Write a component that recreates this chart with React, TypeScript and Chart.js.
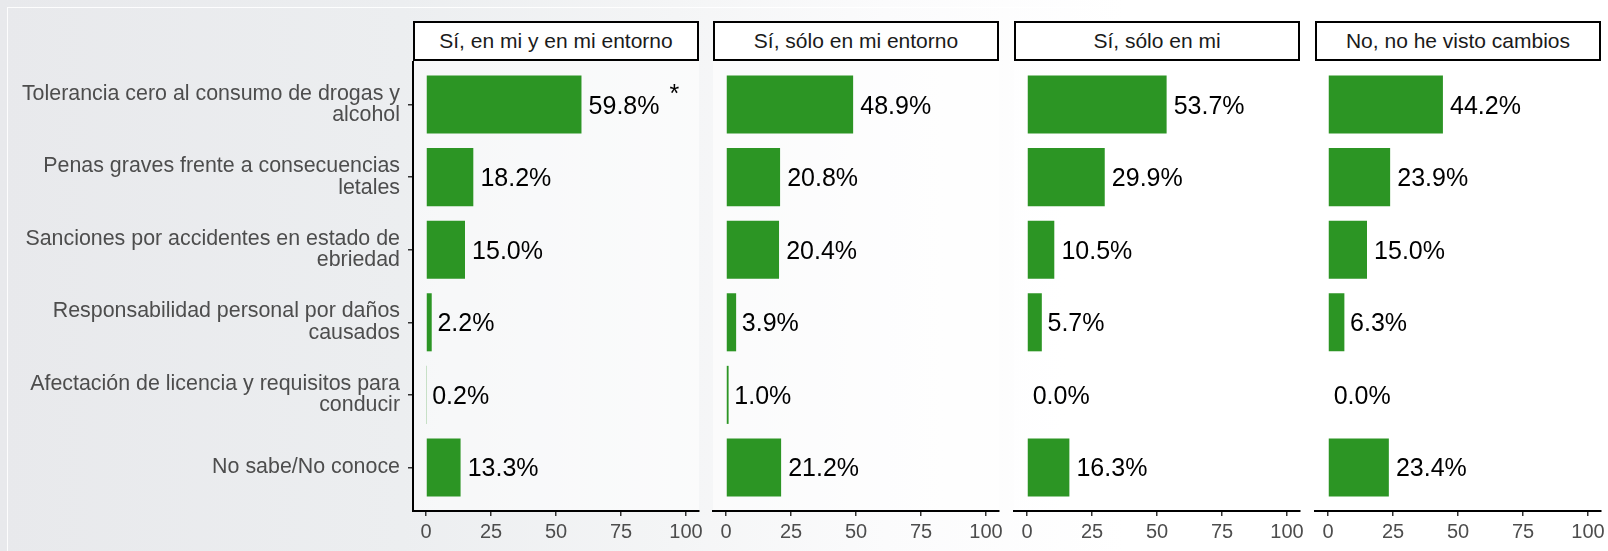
import React, { useEffect, useRef } from "react";
import { Chart, registerables } from "chart.js";

Chart.register(...registerables);

const categories: string[][] = [
  ["Tolerancia cero al consumo de drogas y", "alcohol"],
  ["Penas graves frente a consecuencias", "letales"],
  ["Sanciones por accidentes en estado de", "ebriedad"],
  ["Responsabilidad personal por daños", "causados"],
  ["Afectación de licencia y requisitos para", "conducir"],
  ["No sabe/No conoce"],
];

const panelTitles = [
  "Sí, en mi y en mi entorno",
  "Sí, sólo en mi entorno",
  "Sí, sólo en mi",
  "No, no he visto cambios",
];

const valuesMiYEntorno = [59.8, 18.2, 15.0, 2.2, 0.2, 13.3];
const valuesSoloEntorno = [48.9, 20.8, 20.4, 3.9, 1.0, 21.2];
const valuesSoloMi = [53.7, 29.9, 10.5, 5.7, 0.0, 16.3];
const valuesNoCambios = [44.2, 23.9, 15.0, 6.3, 0.0, 23.4];

const marksMiYEntorno = ["*", "", "", "", "", ""];
const marksNone = ["", "", "", "", "", ""];

const xTicks = [0, 25, 50, 75, 100];

const FONT = "'Liberation Sans', Arial, Helvetica, sans-serif";
const PANEL_LEFTS = [413, 713, 1014, 1315];
const PANEL_W = 286;
const PANEL_TOP = 61;
const PAGE_H = 551;

const areaBgPlugin = {
  id: "areaBg",
  beforeDraw(chart: any) {
    const { ctx, chartArea } = chart;
    ctx.save();
    ctx.fillStyle = "rgba(255,255,255,0.55)";
    ctx.fillRect(chartArea.left, chartArea.top, chartArea.right - chartArea.left, chartArea.bottom - chartArea.top);
    ctx.restore();
  },
};

const barLabelPlugin = {
  id: "barLabels",
  afterDatasetsDraw(chart: any, _args: any, opts: any) {
    const ctx = chart.ctx;
    const meta = chart.getDatasetMeta(0);
    const ds = chart.data.datasets[0];
    const marks: string[] = (opts && opts.marks) || [];
    ctx.save();
    ctx.font = `25px ${FONT}`;
    ctx.fillStyle = "#000";
    ctx.textAlign = "left";
    ctx.textBaseline = "alphabetic";
    meta.data.forEach((bar: any, i: number) => {
      const v = ds.data[i].x as number;
      const txt = v.toFixed(1) + "%";
      const w = ctx.measureText(txt).width;
      const x = bar.x + 0.1 * w;
      const base = bar.y + 9;
      ctx.fillText(txt, x, base);
      if (marks[i]) ctx.fillText(marks[i], x + w + 10, base - 12);
    });
    ctx.restore();
  },
};

function Panel({ index, values, marks }: { index: number; values: number[]; marks: string[] }) {
  const ref = useRef<HTMLCanvasElement | null>(null);
  const first = index === 0;
  const left = PANEL_LEFTS[index];
  const canvasLeft = first ? 0 : left - 20;
  const padLeft = first ? 0 : 20;
  const padRight = 22;
  const canvasW = first ? left + PANEL_W + padRight : PANEL_W + padLeft + padRight;
  const canvasH = PAGE_H - PANEL_TOP;

  useEffect(() => {
    if (!ref.current) return;
    const yScale: any = {
      type: "linear",
      display: first,
      min: -0.6,
      max: 5.6,
      reverse: true,
      offset: false,
      afterBuildTicks: (s: any) => {
        s.ticks = categories.map((_, i) => ({ value: i }));
      },
      grid: { offset: false, drawOnChartArea: false, drawTicks: true, tickLength: 5, color: "#333", lineWidth: 1.5 },
      border: { display: true, color: "#000", width: 2 },
      ticks: {
        color: "#4d4d4d",
        font: { family: FONT, size: 21.4, lineHeight: 1.0 },
        padding: 8,
        callback: (v: any) => categories[v as number],
      },
    };
    if (first) {
      yScale.afterFit = (s: any) => {
        s.width = left;
        s.paddingTop = 0;
        s.paddingBottom = 0;
      };
    }
    const chart = new Chart(ref.current, {
      type: "bar",
      data: {
        datasets: [
          {
            data: values.map((v, i) => ({ x: v, y: i })),
            backgroundColor: "#2c9524",
            borderWidth: 0,
            categoryPercentage: 1,
            barPercentage: 0.8,
          } as any,
        ],
      },
      options: {
        indexAxis: "y",
        animation: false,
        responsive: false,
        devicePixelRatio: 1,
        layout: { padding: { left: padLeft, right: padRight, top: 0, bottom: 0 } },
        plugins: {
          legend: { display: false },
          tooltip: { enabled: false },
          barLabels: { marks },
        } as any,
        scales: {
          x: {
            type: "linear",
            min: -5,
            max: 105,
            offset: false,
            afterBuildTicks: (s: any) => {
              s.ticks = xTicks.map((v) => ({ value: v }));
            },
            afterFit: (s: any) => {
              s.height = 40;
            },
            grid: { offset: false, drawOnChartArea: false, drawTicks: true, tickLength: 5, color: "#333", lineWidth: 1.5 },
            border: { display: true, color: "#000", width: 2 },
            ticks: {
              color: "#4d4d4d",
              font: { family: FONT, size: 20 },
              padding: 4,
              maxRotation: 0,
              callback: (v: any) => String(v),
            },
          },
          y: yScale,
        },
      } as any,
      plugins: [areaBgPlugin, barLabelPlugin],
    });
    return () => chart.destroy();
  }, []);

  return (
    <canvas
      ref={ref}
      width={canvasW}
      height={canvasH}
      style={{ position: "absolute", left: canvasLeft, top: PANEL_TOP, width: canvasW, height: canvasH }}
    />
  );
}

export default function App() {
  const panels = [
    { values: valuesMiYEntorno, marks: marksMiYEntorno },
    { values: valuesSoloEntorno, marks: marksNone },
    { values: valuesSoloMi, marks: marksNone },
    { values: valuesNoCambios, marks: marksNone },
  ];
  return (
    <div
      style={{
        position: "absolute",
        left: 0,
        top: 0,
        width: 1608,
        height: PAGE_H,
        overflow: "hidden",
        background: "linear-gradient(90deg, #e8e9ec 0%, #eceef0 25%, #f4f5f6 42%, #fbfbfc 55%, #ffffff 70%)",
        fontFamily: FONT,
      }}
    >
      <div
        style={{
          position: "absolute",
          left: 7,
          top: 7,
          width: 1700,
          height: 700,
          border: "1px solid rgba(255,255,255,0.9)",
        }}
      />
      {panelTitles.map((t, i) => (
        <div
          key={t}
          style={{
            position: "absolute",
            left: PANEL_LEFTS[i],
            top: 21,
            width: PANEL_W,
            height: 40,
            boxSizing: "border-box",
            border: "2px solid #000",
            background: "#fff",
            textAlign: "center",
            lineHeight: "36px",
            fontSize: 21,
            color: "#1a1a1a",
            whiteSpace: "nowrap",
          }}
        >
          {t}
        </div>
      ))}
      {panels.map((p, i) => (
        <Panel key={i} index={i} values={p.values} marks={p.marks} />
      ))}
    </div>
  );
}
